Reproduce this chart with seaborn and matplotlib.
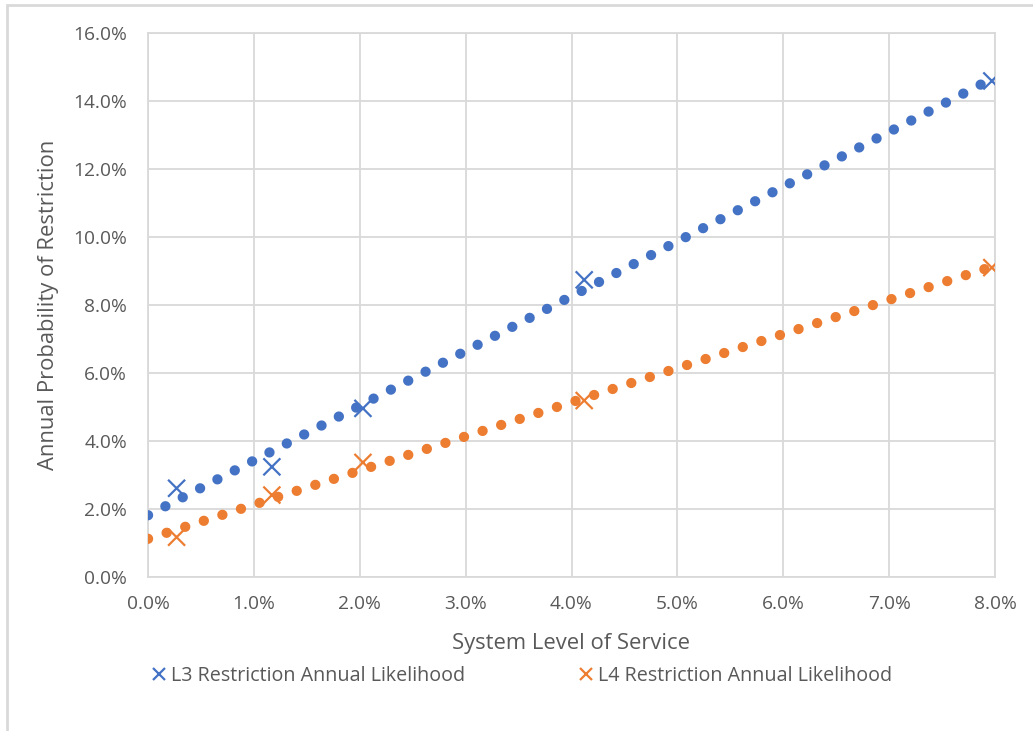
import numpy as np
import pandas as pd
import matplotlib
matplotlib.use("Agg")
import matplotlib.pyplot as plt
from matplotlib.ticker import PercentFormatter, MultipleLocator
from matplotlib.patches import Rectangle
import seaborn as sns

# System level of service (fraction) and annual restriction likelihoods
los = [0.0027, 0.0117, 0.0203, 0.0412, 0.0797]
l3_likelihood = [0.0261, 0.0324, 0.0496, 0.0874, 0.1459]
l4_likelihood = [0.0117, 0.0241, 0.0337, 0.0519, 0.0910]
series_names = ["L3 Restriction Annual Likelihood", "L4 Restriction Annual Likelihood"]
colors = ["#4472C4", "#ED7D31"]

df = pd.DataFrame({
    "los": los * 2,
    "likelihood": l3_likelihood + l4_likelihood,
    "series": [series_names[0]] * len(los) + [series_names[1]] * len(los),
})

sns.set_theme(style="white")
plt.rcParams["font.family"] = ["Open Sans", "DejaVu Sans"]
text_color = "#595959"
grid_color = "#d9d9d9"

fig = plt.figure(figsize=(10.33, 7.31), dpi=100)
ax = fig.add_axes([148 / 1033, 1 - 577 / 731, 847 / 1033, 544 / 731])

ax.set_xlim(0, 0.08)
ax.set_ylim(0, 0.16)

# Linear trendlines fitted to each series, drawn as round dots
x_line = np.array([0.0, 0.08])
for name, yvals, c in zip(series_names, [l3_likelihood, l4_likelihood], colors):
    slope, intercept = np.polyfit(los, yvals, 1)
    trend = pd.DataFrame({"x": x_line, "y": slope * x_line + intercept})
    sns.lineplot(data=trend, x="x", y="y", ax=ax, color=c, linewidth=7.4,
                 linestyle=(0, (0.01, 1.89)), dash_capstyle="round",
                 legend=False, zorder=3, sort=False)

sns.scatterplot(data=df, x="los", y="likelihood", hue="series", palette=colors,
                marker="x", s=150, linewidth=1.6, ax=ax, zorder=4)

ax.xaxis.set_major_locator(MultipleLocator(0.01))
ax.yaxis.set_major_locator(MultipleLocator(0.02))
ax.xaxis.set_major_formatter(PercentFormatter(xmax=1, decimals=1))
ax.yaxis.set_major_formatter(PercentFormatter(xmax=1, decimals=1))
ax.grid(True, color=grid_color, linewidth=1.3)
ax.set_axisbelow(True)
for sp in ax.spines.values():
    sp.set_visible(True)
    sp.set_color(grid_color)
    sp.set_linewidth(1.3)
ax.tick_params(length=0, labelsize=13.8, labelcolor=text_color)
ax.tick_params(axis="x", pad=13)
ax.tick_params(axis="y", pad=15)

ax.set_xlabel("System Level of Service", fontsize=15.8, color=text_color, labelpad=14)
ax.set_ylabel("Annual Probability of Restriction", fontsize=15.8, color=text_color, labelpad=10)

sns.move_legend(ax, "center", bbox_to_anchor=(522 / 1033, 1 - 676 / 731),
                bbox_transform=fig.transFigure, ncol=2, frameon=False, title=None,
                fontsize=14.2, labelcolor=text_color, markerscale=0.7,
                handlelength=0.7, handletextpad=0.25, columnspacing=5.8)

# Outer chart border
fig.patches.append(Rectangle((7 / 1033, -0.1), 1.2, 1.1 - 5 / 731,
                             transform=fig.transFigure, fill=False,
                             edgecolor=grid_color, linewidth=2.0, clip_on=False))

fig.savefig("out.png", dpi=100, facecolor="white")
